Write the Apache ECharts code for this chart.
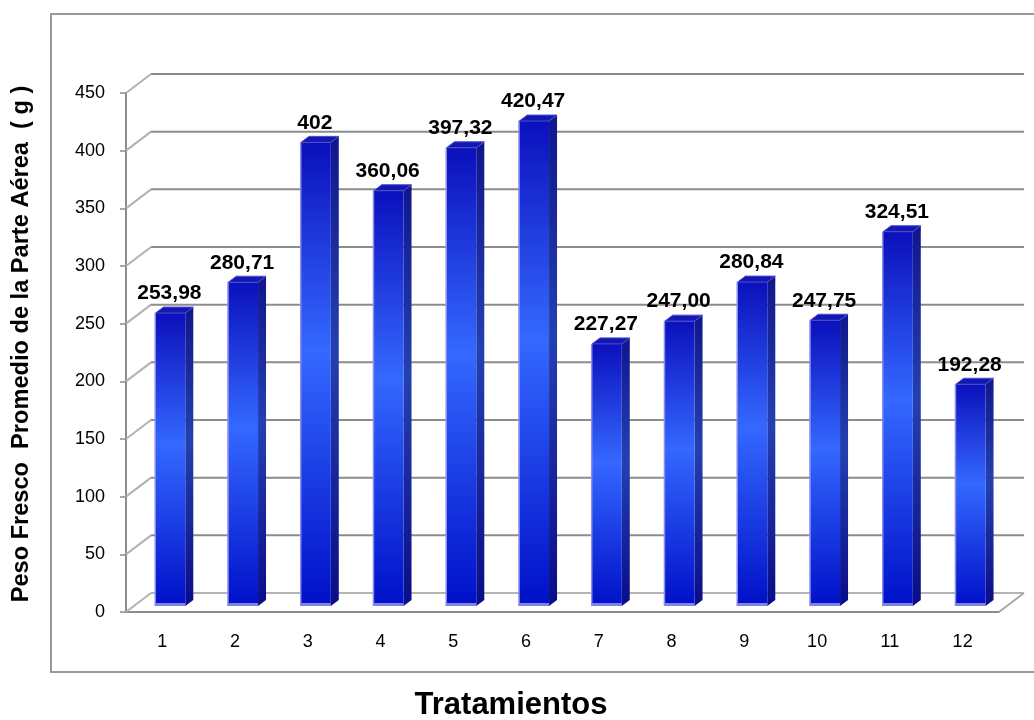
<!DOCTYPE html>
<html>
<head>
<meta charset="utf-8">
<script src="https://cdn.jsdelivr.net/npm/echarts@6/dist/echarts.min.js"></script>
<style>
  html, body { margin: 0; padding: 0; background: #ffffff; }
  #chart { width: 1034px; height: 720px; }
</style>
</head>
<body>
<div id="chart"></div>
<script>
// Tratamientos 1..12 and mean fresh weight of the aerial part (g)
const categories = ['1', '2', '3', '4', '5', '6', '7', '8', '9', '10', '11', '12'];
const pesoFresco = [253.98, 280.71, 402, 360.06, 397.32, 420.47, 227.27, 247.00, 280.84, 247.75, 324.51, 192.28];
const valueLabels = ['253,98', '280,71', '402', '360,06', '397,32', '420,47', '227,27', '247,00', '280,84', '247,75', '324,51', '192,28'];
const yTicks = [0, 50, 100, 150, 200, 250, 300, 350, 400, 450];

const FONT = '"Liberation Sans", Arial, Helvetica, sans-serif';

// pseudo-3D geometry (pixels)
const WALL_DX = 25, WALL_DY = -19;   // depth of the back wall
const BAR_SET_X = 8, BAR_SET_Y = -6; // bars sit a little behind the front plane
const BAR_DX = 8, BAR_DY = -6;       // depth of each bar
const BAR_RATIO = 0.41;              // front face width / category band

const chart = echarts.init(document.getElementById('chart'), null, { renderer: 'canvas' });

// back wall gridlines, left-wall connectors and the floor edge
function renderWall(params, api) {
  const cs = params.coordSys;
  const v = api.value(1);
  const y = api.coord([0, v])[1];
  const x0 = cs.x, x1 = cs.x + cs.width;
  const children = [
    {
      type: 'line',
      shape: { x1: x0, y1: y, x2: x0 + WALL_DX, y2: y + WALL_DY },
      style: { stroke: '#b2b2b2', lineWidth: 2 }
    },
    {
      type: 'line',
      shape: { x1: x0 + WALL_DX, y1: y + WALL_DY, x2: x1 + WALL_DX, y2: y + WALL_DY },
      style: { stroke: v === 0 ? '#b4b4b4' : '#8c8c8c', lineWidth: 2 }
    }
  ];
  if (v === 0) {
    children.push({
      type: 'line',
      shape: { x1: x1, y1: y, x2: x1 + WALL_DX, y2: y + WALL_DY },
      style: { stroke: '#a8a8a8', lineWidth: 2 }
    });
  }
  return { type: 'group', children: children };
}

const frontFill = new echarts.graphic.LinearGradient(0, 0, 0, 1, [
  { offset: 0, color: '#0b10bc' },
  { offset: 0.45, color: '#3468ff' },
  { offset: 1, color: '#0010c8' }
]);
const sideFill = new echarts.graphic.LinearGradient(0, 0, 0, 1, [
  { offset: 0, color: '#10168c' },
  { offset: 0.45, color: '#2440b0' },
  { offset: 1, color: '#0a0c88' }
]);

function renderBar(params, api) {
  const i = api.value(0);
  const v = api.value(1);
  const base = api.coord([i, 0]);
  const top = api.coord([i, v]);
  const band = api.size([1, 0])[0];
  const w = band * BAR_RATIO;
  const cx = base[0] + BAR_SET_X;
  const l = cx - w / 2, r = cx + w / 2;
  const b = base[1] + BAR_SET_Y, t = top[1] + BAR_SET_Y;
  return {
    type: 'group',
    children: [
      {
        type: 'polygon',
        shape: { points: [[r, b], [r + BAR_DX, b + BAR_DY], [r + BAR_DX, t + BAR_DY], [r, t]] },
        style: { fill: sideFill }
      },
      {
        type: 'rect',
        shape: { x: l, y: t, width: w, height: b - t },
        style: { fill: frontFill }
      },
      {
        type: 'rect',
        shape: { x: l - 1, y: t, width: 1.5, height: b - t },
        style: { fill: '#8a8cf0' }
      },
      {
        type: 'rect',
        shape: { x: l, y: b - 3, width: w, height: 3 },
        style: { fill: '#7f82e6' }
      },
      {
        type: 'polygon',
        shape: { points: [[l, t], [l + BAR_DX, t + BAR_DY], [r + BAR_DX, t + BAR_DY], [r, t]] },
        style: { fill: '#1418b2', stroke: '#4b4fd0', lineWidth: 1 }
      },
      {
        type: 'text',
        style: {
          text: valueLabels[i],
          x: cx - 1,
          y: t + BAR_DY - 3,
          align: 'center',
          verticalAlign: 'bottom',
          font: 'bold 21px ' + FONT,
          fill: '#000000'
        }
      }
    ]
  };
}

const option = {
  backgroundColor: '#ffffff',
  animation: false,
  grid: { left: 126, right: 35, top: 93, bottom: 108, containLabel: false },
  xAxis: {
    type: 'category',
    data: categories,
    boundaryGap: true,
    axisLine: { show: true, lineStyle: { color: '#8c8c8c', width: 2 } },
    axisTick: { show: false },
    axisLabel: { color: '#000000', fontSize: 18, fontFamily: FONT, margin: 21 },
    splitLine: { show: false }
  },
  yAxis: {
    type: 'value',
    min: 0,
    max: 450,
    interval: 50,
    axisLine: { show: true, lineStyle: { color: '#8c8c8c', width: 2 } },
    axisTick: { show: true, length: 6, lineStyle: { color: '#8c8c8c', width: 1.5 } },
    axisLabel: { color: '#000000', fontSize: 18, fontFamily: FONT, margin: 21 },
    splitLine: { show: false }
  },
  graphic: [
    {
      type: 'rect',
      z: -10,
      shape: { x: 51, y: 14, width: 1010, height: 658 },
      style: { fill: 'none', stroke: '#9a9a9a', lineWidth: 2 }
    },
    {
      type: 'text',
      x: 21,
      y: 344,
      rotation: Math.PI / 2,
      style: {
        text: 'Peso Fresco  Promedio de la Parte Aérea  ( g )',
        align: 'center',
        verticalAlign: 'middle',
        font: 'bold 23.6px ' + FONT,
        fill: '#000000'
      }
    },
    {
      type: 'text',
      x: 511,
      y: 705,
      style: {
        text: 'Tratamientos',
        align: 'center',
        verticalAlign: 'middle',
        font: 'bold 31px ' + FONT,
        fill: '#000000'
      }
    }
  ],
  series: [
    {
      type: 'custom',
      name: 'wall',
      z: 1,
      silent: true,
      renderItem: renderWall,
      data: yTicks.map(function (v) { return [0, v]; })
    },
    {
      type: 'custom',
      name: 'Peso fresco',
      z: 3,
      renderItem: renderBar,
      data: pesoFresco.map(function (v, i) { return [i, v]; })
    }
  ]
};

chart.setOption(option);
</script>
</body>
</html>
